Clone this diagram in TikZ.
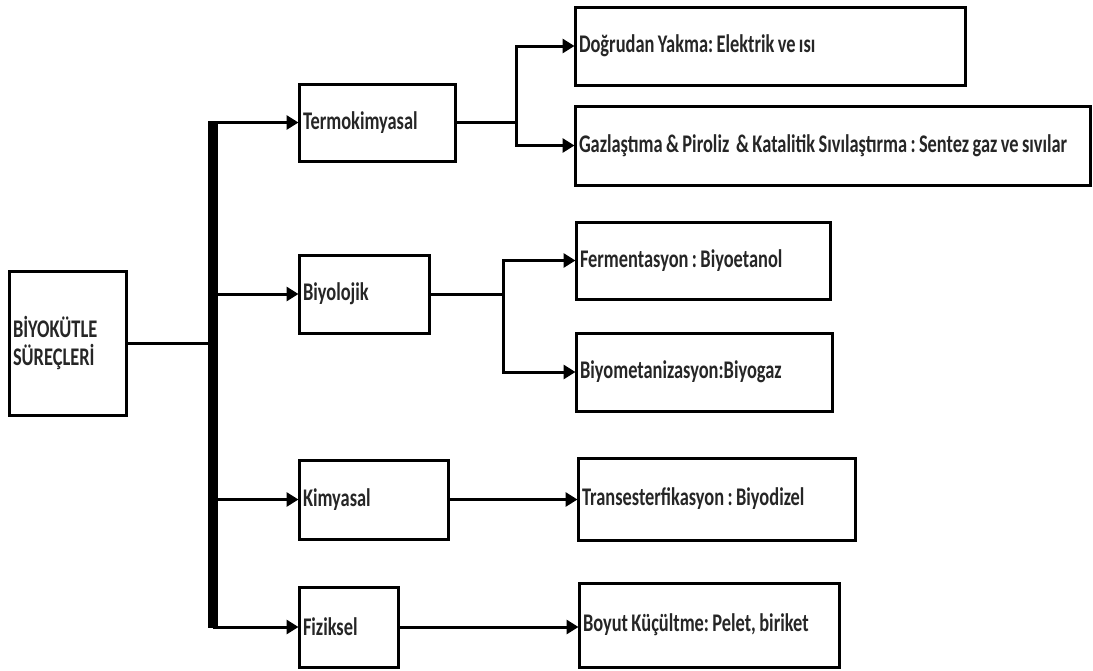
\documentclass[tikz,border=0pt]{standalone}
\usepackage{fontspec}
\setmainfont{Carlito}
\usetikzlibrary{arrows.meta}
\frenchspacing
\newcommand{\tx}[1]{\scalebox{1}[1.38]{\spaceskip=3.4pt\relax #1}}
\tikzset{
  box/.style={draw=black, line width=3pt, align=left, inner xsep=4pt, inner ysep=0pt,
    font=\fontsize{18.4}{28}\selectfont\bfseries, text=black!85},
  conn/.style={draw=black, line width=3pt},
  arr/.style={conn, -{Triangle[length=12pt,width=14pt]}, shorten >=-1pt},
}
\newcommand{\bx}[6]{%
  \pgfmathsetmacro{\cx}{(#2+#4)/2}\pgfmathsetmacro{\cy}{(#3+#5)/2}%
  \pgfmathsetmacro{\w}{#4-#2}\pgfmathsetmacro{\h}{#5-#3}\pgfmathsetmacro{\tw}{#4-#2-8}%
  \node[box, minimum width=\w pt, minimum height=\h pt, text width=\tw pt] (#1) at (\cx,\cy) {#6};}
\begin{document}
\begin{tikzpicture}[x=1pt,y=-1pt]
\useasboundingbox[fill=white] (0,0) rectangle (1093,670);
\bx{main}{9}{271}{126}{415}{\tx{BİYOKÜTLE}\\\tx{SÜREÇLERİ}}
\bx{termo}{299}{84}{455}{161}{\tx{Termokimyasal}}
\bx{dog}{575}{7}{965}{85}{\tx{Doğrudan Yakma: Elektrik ve ısı}}
\bx{gaz}{575}{106}{1090}{185}{\tx{Gazlaştıma \& Piroliz\ \ \& Katalitik Sıvılaştırma : Sentez gaz ve sıvılar}}
\bx{biyo}{299}{255}{429}{333}{\tx{Biyolojik}}
\bx{ferm}{576}{222}{830}{299}{\tx{Fermentasyon : Biyoetanol}}
\bx{biyomet}{576}{333}{832}{411}{\tx{Biyometanizasyon:Biyogaz}}
\bx{kim}{299}{460}{448}{539}{\tx{Kimyasal}}
\bx{trans}{578}{458}{855}{540}{\tx{Transesterfikasyon : Biyodizel}}
\bx{fiz}{299}{587}{398}{667}{\tx{Fiziksel}}
\bx{boyut}{579}{583}{839}{667}{\tx{Boyut Küçültme: Pelet, biriket}}
% bus
\coordinate (bartop) at (212.5,121);
\coordinate (barbot) at (212.5,628);
\draw[line width=10pt] (bartop) -- (barbot);
\draw[conn] (main.east) -- (main.east -| bartop);
\draw[arr] (termo.west -| bartop) -- (termo.west);
\draw[arr] (biyo.west -| bartop) -- (biyo.west);
\draw[arr] (kim.west -| bartop) -- (kim.west);
\draw[arr] (fiz.west -| bartop) -- (fiz.west);
% second level
\draw[arr] (termo.east) -- ++(60,0) |- (dog.west);
\draw[arr] (termo.east) -- ++(60,0) |- (gaz.west);
\draw[arr] (biyo.east) -- ++(73,0) |- (ferm.west);
\draw[arr] (biyo.east) -- ++(73,0) |- (biyomet.west);
\draw[arr] (kim.east) -- (kim.east -| trans.west);
\draw[arr] (fiz.east) -- (fiz.east -| boyut.west);
\end{tikzpicture}
\end{document}
